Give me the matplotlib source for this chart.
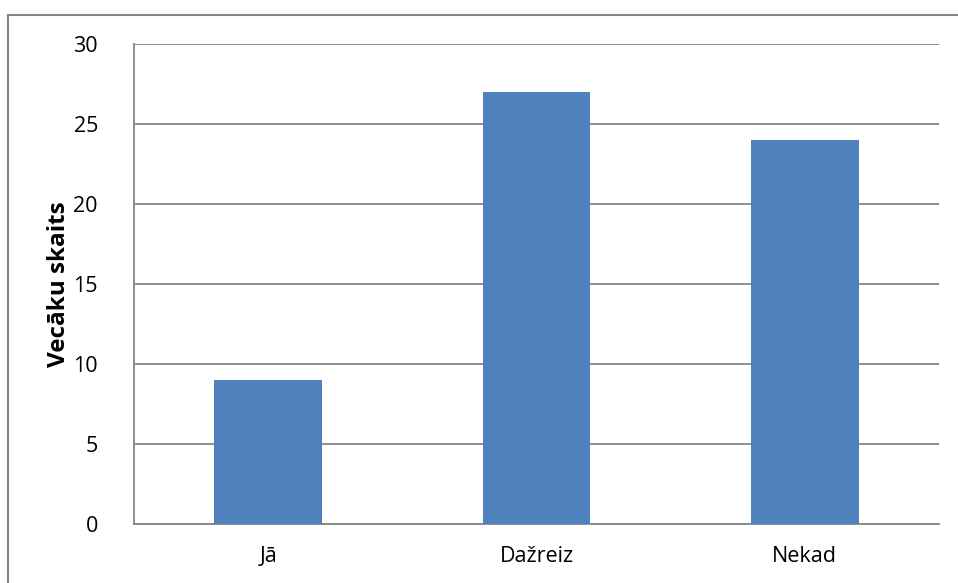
import matplotlib
matplotlib.use("Agg")
import matplotlib.pyplot as plt
from matplotlib.patches import Rectangle

categories = ["Jā", "Dažreiz", "Nekad"]
values = [9, 27, 24]
yticks = [0, 5, 10, 15, 20, 25, 30]

plt.rcParams['font.family'] = ['Open Sans', 'DejaVu Sans']

fig = plt.figure(figsize=(9.58, 5.83), dpi=100)
ax = fig.add_axes([134/958, 1-524/583, (939-134)/958, (524-44)/583])

grid_c = "#868686"
x = range(len(categories))
ax.bar(x, values, width=0.4, color="#4F81BD", zorder=3)
ax.set_xlim(-0.5, 2.5)
ax.set_ylim(0, 30)
ax.set_yticks(yticks)
ax.set_xticks(list(x))
ax.set_xticklabels(categories)
ax.yaxis.grid(True, color=grid_c, linewidth=1.3, zorder=0)
ax.tick_params(axis='both', length=0, labelsize=15.5, colors="black")
ax.tick_params(axis='y', pad=26)
ax.tick_params(axis='x', pad=16)
for s in ["top", "right"]:
    ax.spines[s].set_visible(False)
for s in ["left", "bottom"]:
    ax.spines[s].set_color(grid_c)
    ax.spines[s].set_linewidth(1.3)
ax.set_ylabel("Vecāku skaits", fontsize=17.5, fontweight="bold")
ax.yaxis.label.set_verticalalignment("center")
ax.yaxis.set_label_coords(-(134-59)/(939-134), 0.5)

border = Rectangle((8/958, -0.05), 1.0, 1-15/583+0.05, transform=fig.transFigure,
                   fill=False, edgecolor=grid_c, linewidth=1.5, clip_on=False)
fig.patches.append(border)

fig.savefig("out.png", dpi=100)
